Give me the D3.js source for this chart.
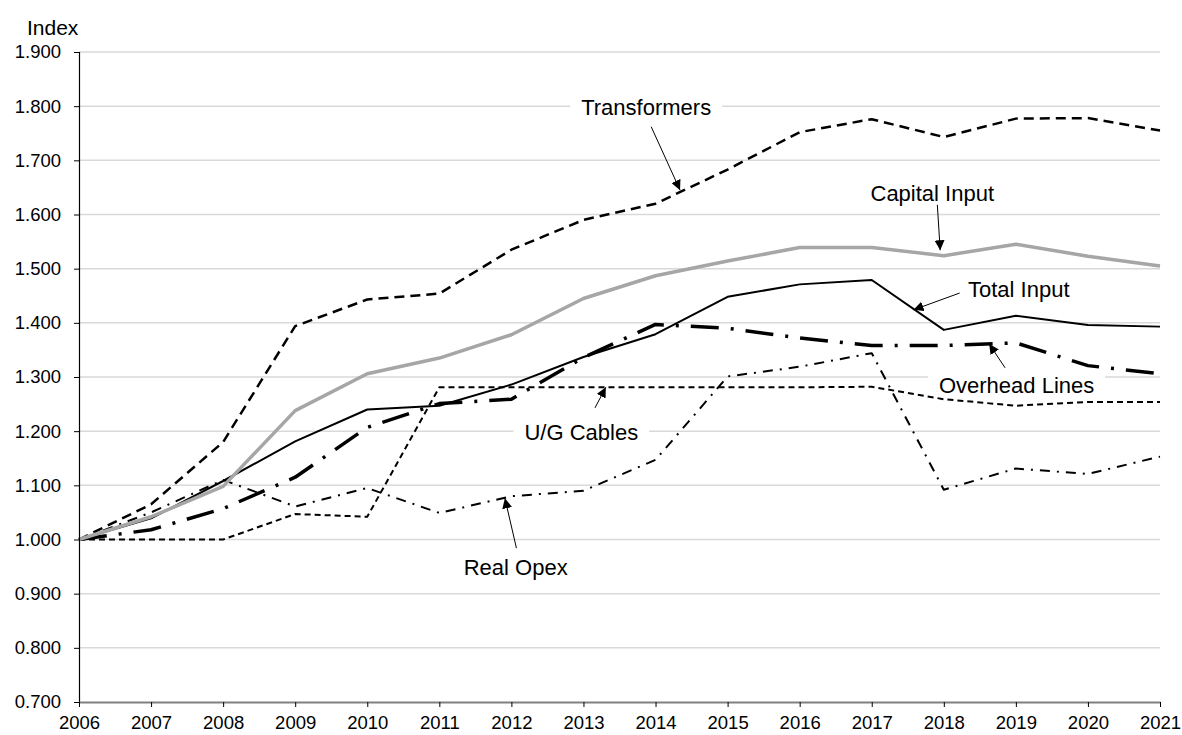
<!DOCTYPE html>
<html>
<head>
<meta charset="utf-8">
<script src="https://cdn.jsdelivr.net/npm/d3@7"></script>
<style>
  body { margin: 0; background: #fff; }
  svg { display: block; font-family: "Liberation Sans", Arial, sans-serif; }
</style>
</head>
<body>
<svg id="chart" width="1182" height="735"></svg>
<script>
const years = [2006, 2007, 2008, 2009, 2010, 2011, 2012, 2013, 2014, 2015, 2016, 2017, 2018, 2019, 2020, 2021];

const transformers = [1.000, 1.065, 1.180, 1.394, 1.443, 1.454, 1.535, 1.590, 1.620, 1.683, 1.752, 1.776, 1.743, 1.777, 1.778, 1.755];
const capitalInput = [1.000, 1.042, 1.098, 1.238, 1.306, 1.335, 1.378, 1.445, 1.487, 1.514, 1.539, 1.539, 1.524, 1.545, 1.523, 1.505];
const totalInput   = [1.000, 1.039, 1.108, 1.181, 1.240, 1.247, 1.286, 1.337, 1.379, 1.448, 1.471, 1.479, 1.387, 1.413, 1.396, 1.393];
const overheadLines = [1.000, 1.018, 1.057, 1.115, 1.207, 1.251, 1.259, 1.336, 1.397, 1.390, 1.372, 1.358, 1.358, 1.363, 1.321, 1.306];
const ugCables     = [1.000, 1.000, 1.000, 1.047, 1.042, 1.281, 1.281, 1.281, 1.281, 1.281, 1.281, 1.282, 1.259, 1.247, 1.254, 1.254];
const realOpex     = [1.000, 1.050, 1.110, 1.061, 1.095, 1.049, 1.080, 1.090, 1.147, 1.301, 1.319, 1.344, 1.092, 1.131, 1.121, 1.153];

const yTicks = [0.7, 0.8, 0.9, 1.0, 1.1, 1.2, 1.3, 1.4, 1.5, 1.6, 1.7, 1.8, 1.9];

// label: [year, value] of text centre, from/to: arrow in data coords
const annotations = [
  { text: "Transformers",   label: [2013.87, 1.797], from: [2013.94, 1.762], to: [2014.34, 1.645] },
  { text: "Capital Input",  label: [2017.84, 1.638], from: [2017.91, 1.618], to: [2017.95, 1.534] },
  { text: "Total Input",    label: [2019.04, 1.461], from: [2018.22, 1.455], to: [2017.58, 1.424] },
  { text: "Overhead Lines", label: [2019.01, 1.285], from: [2018.85, 1.317], to: [2018.63, 1.361] },
  { text: "U/G Cables",     label: [2012.97, 1.197], from: [2013.16, 1.243], to: [2013.31, 1.281] },
  { text: "Real Opex",      label: [2012.06, 0.949], from: [2012.07, 0.984], to: [2011.91, 1.076] }
];

const series = [
  { name: "U/G Cables", values: ugCables, color: "#000", width: 2, dash: "6,4" },
  { name: "Real Opex", values: realOpex, color: "#000", width: 2, dash: "10,7,2,7" },
  { name: "Overhead Lines", values: overheadLines, color: "#000", width: 3.5, dash: "28,12,3,12" },
  { name: "Total Input", values: totalInput, color: "#000", width: 2, dash: null },
  { name: "Transformers", values: transformers, color: "#000", width: 2.5, dash: "10,6" },
  { name: "Capital Input", values: capitalInput, color: "#a6a6a6", width: 3.5, dash: null }
];

const svg = d3.select("#chart");
const margin = { top: 52, right: 22, bottom: 33, left: 79 };
const width = +svg.attr("width") - margin.left - margin.right;
const height = +svg.attr("height") - margin.top - margin.bottom;
const g = svg.append("g").attr("transform", `translate(${margin.left},${margin.top})`);

const x = d3.scaleLinear().domain([2006, 2021]).range([0, width]);
const y = d3.scaleLinear().domain([0.7, 1.9]).range([height, 0]);

// gridlines
g.append("g")
  .selectAll("line")
  .data(yTicks.filter(d => d > 0.7))
  .join("line")
  .attr("x1", 0)
  .attr("x2", width)
  .attr("y1", d => y(d))
  .attr("y2", d => y(d))
  .attr("stroke", "#d9d9d9")
  .attr("stroke-width", 1.5);

// white boxes behind annotation labels
const labelGroup = g.append("g");
annotations.forEach(a => {
  const t = labelGroup.append("text")
    .attr("x", x(a.label[0]))
    .attr("y", y(a.label[1]))
    .attr("text-anchor", "middle")
    .attr("dominant-baseline", "central")
    .attr("font-size", 22)
    .attr("fill", "#000")
    .text(a.text);
  const bb = t.node().getBBox();
  labelGroup.insert("rect", "text")
    .attr("x", bb.x - 11)
    .attr("y", bb.y - 2)
    .attr("width", bb.width + 22)
    .attr("height", bb.height + 4)
    .attr("fill", "#fff");
});

const line = d3.line()
  .x((d, i) => x(years[i]))
  .y(d => y(d));

g.append("g")
  .selectAll("path")
  .data(series)
  .join("path")
  .attr("fill", "none")
  .attr("stroke", d => d.color)
  .attr("stroke-width", d => d.width)
  .attr("stroke-dasharray", d => d.dash)
  .attr("stroke-linejoin", "round")
  .attr("d", d => line(d.values));

// axes
const yAxis = g.append("g")
  .call(d3.axisLeft(y).tickValues(yTicks).tickFormat(d3.format(".3f")).tickSize(5).tickPadding(13));
yAxis.select(".domain").attr("stroke", "#000").attr("stroke-width", 1.2);
yAxis.selectAll(".tick line").attr("stroke", "#000");
yAxis.selectAll("text").attr("font-size", 18.5).attr("fill", "#000").attr("font-family", null);

const xAxis = g.append("g")
  .attr("transform", `translate(0,${height})`)
  .call(d3.axisBottom(x).tickValues(years).tickFormat(d3.format("d")).tickSize(5).tickPadding(9).tickSizeOuter(0));
xAxis.select(".domain").attr("stroke", "#808080").attr("stroke-width", 2);
xAxis.selectAll(".tick line").attr("stroke", "#000");
xAxis.selectAll("text").attr("font-size", 18.5).attr("fill", "#000").attr("font-family", null);

svg.append("text")
  .attr("x", 27)
  .attr("y", 35)
  .attr("font-size", 21)
  .attr("fill", "#000")
  .text("Index");

// arrows
svg.append("defs").append("marker")
  .attr("id", "arrow")
  .attr("viewBox", "0 0 10 10")
  .attr("refX", 10)
  .attr("refY", 5)
  .attr("markerWidth", 10)
  .attr("markerHeight", 10)
  .attr("markerUnits", "userSpaceOnUse")
  .attr("orient", "auto")
  .append("path")
  .attr("d", "M0,0L10,5L0,10Z")
  .attr("fill", "#000");

g.append("g")
  .selectAll("line")
  .data(annotations)
  .join("line")
  .attr("x1", d => x(d.from[0]))
  .attr("y1", d => y(d.from[1]))
  .attr("x2", d => x(d.to[0]))
  .attr("y2", d => y(d.to[1]))
  .attr("stroke", "#000")
  .attr("stroke-width", 1)
  .attr("marker-end", "url(#arrow)");
</script>
</body>
</html>
